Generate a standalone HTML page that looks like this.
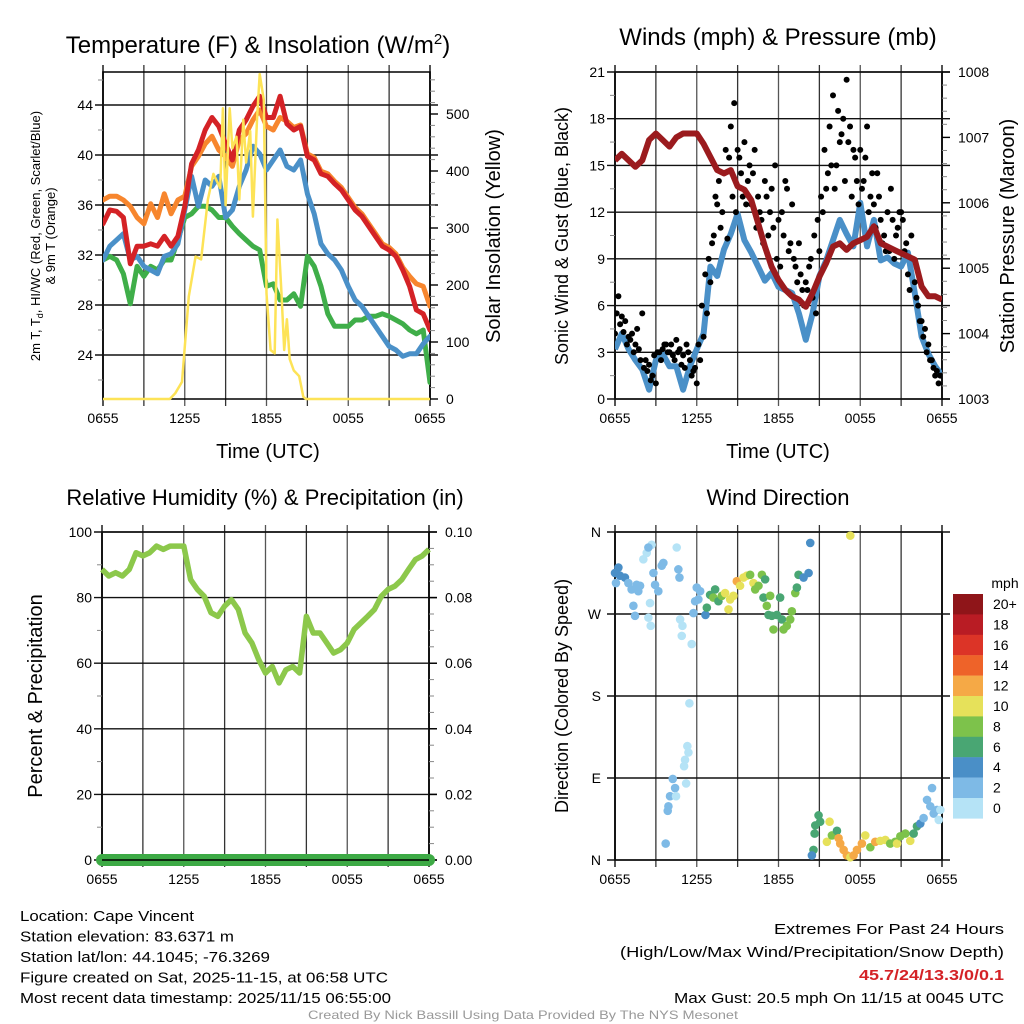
<!DOCTYPE html>
<html><head><meta charset="utf-8"><style>
html,body{margin:0;padding:0;background:#fff;}
svg{display:block;font-family:"Liberation Sans",sans-serif;}
</style></head><body>
<svg id="c" width="1024" height="1024" viewBox="0 0 1024 1024" xmlns="http://www.w3.org/2000/svg"></svg>
<script>
// ---------- DATA ----------
const timeLabels = ["0655","1255","1855","0055","0655"];
const temp2m = [34.5,35.6,35.5,35,31.3,32.7,32.7,32.9,32.7,33.5,32.7,33.5,35.9,39.3,40.4,42,43,42.3,40.9,39.6,42,42.8,43.9,44.7,43,43,44.7,42.5,42,42.3,39.9,39.6,38.5,38.3,37.7,37.2,36.4,35.6,35.1,34.3,33.5,32.7,32.4,31.9,30.8,29.5,27.6,27.3,26];
const temp9m = [36.4,36.7,36.7,36.4,35.9,35,34.5,36.1,35,36.9,35.3,36.4,36.7,39.1,39.9,40.9,41.5,40.4,39.9,39.1,41.2,41.7,42.8,43.6,42.3,42,43,42.7,42.2,42.4,40.1,39.8,38.7,38.5,37.9,37.4,36.6,35.8,35.3,34.5,33.7,32.9,32.6,32.1,31,30.3,29.7,29.5,27.9];
const windChill = [31.6,32.7,33.2,33.7,31.6,31.9,31.1,30.8,30.5,31.9,32.1,32.9,35.6,38.3,35.9,38,37.5,38.3,35,35.6,37.5,38.8,40.7,40.1,38.8,39.6,40.4,39.1,38.8,39.6,36.9,35.3,32.9,32.1,31.6,30.8,29.5,28.4,27.9,27.1,26.3,25.5,24.7,24.4,23.9,24.1,24.1,24.9,25.5];
const dewPoint = [31.6,31.9,31.6,30.5,28.1,31.1,30.3,31.1,30.8,31.6,31.6,33.2,35,35.3,35.9,35.9,35.6,35,35,34.3,33.7,33.2,32.7,32.4,29.5,29.7,28.4,28.4,28.9,27.9,31.9,31.1,29.5,27.3,26.3,26.3,26.3,26.8,26.8,27.1,27.1,27.3,27.1,26.8,26.5,26,25.7,26,21.8];
const insolHours = [0,4.9,5.3,5.8,6.3,6.8,7.2,7.7,8.1,8.6,8.8,9.0,9.3,9.5,9.8,10.0,10.3,10.5,10.8,11.0,11.3,11.5,11.8,12.0,12.3,12.6,12.8,13.1,13.3,13.5,13.7,14.0,14.4,14.7,14.9,15.2,24];
const insolation = [0,0,10,30,180,250,245,350,395,370,510,340,510,440,460,350,490,415,470,320,490,570,525,185,86,80,315,185,86,140,70,50,40,4,0,0,0];
const windSpeed = [3.2,4.2,3.2,2.5,1.9,0.6,2.5,2.9,2.1,2.1,0.6,2.1,3.2,4.2,8.5,7.9,9.6,10.6,11.9,10.2,9.4,8.5,7.6,8.1,7.2,7,6.8,5.5,3.8,5.5,7.9,8.9,10.2,11.5,10.6,9.8,12.6,9.8,11.5,8.9,9.1,8.7,8.5,9.4,6.8,4,2.9,2.1,1.5];
const gustA = [4.2,6.6,5.3,5.0,4.0,4.2,3.5,3.2,5.5,2.5,2.2,1.5,1.0,3.0,3.2,3.5,3.0,2.8,3.8,3.2,2.8,3.5,2.5,1.8,1.0,2.5,4.0,5.5,7.5,10.5,12.5,11.0,14.5,10.3,17.5,19.0,16.0,14.5,16.5,14.0,12.5,16.0,13.0,11.5,14.0,10.5,13.5,15.0,11.5,12.0,14.0,9.5,12.5,8.5,10.0,7.0,7.5,8.5,6.5,5.5,9.5,12.0,13.5,17.5,19.5,15.0,16.5,18.0,20.5,17.5,16.0,14.0,16.0,14.0,17.5,13.0,12.5,14.5,11.5,10.5,12.0,13.5,9.0,11.0,12.0,9.5,8.0,10.5,7.5,6.0,5.0,4.5,3.5,2.5,1.5,1.0,1.5];
const gustB = [5.5,4.8,4.3,3.5,3.8,3.0,4.5,2.5,2.0,1.8,1.2,2.8,3.0,2.5,3.5,3.0,3.5,2.5,3.0,2.2,2.0,3.0,1.5,2.0,3.5,6.0,8.0,9.0,10.0,13.0,14.0,12.0,16.0,15.5,13.0,12.0,15.5,13.0,12.5,15.0,14.5,11.0,12.0,10.0,13.0,12.0,11.0,9.0,8.5,10.5,13.5,10.0,9.0,7.5,8.0,6.0,7.0,9.0,10.5,11.5,13.0,16.0,14.5,15.0,13.5,18.5,17.0,14.0,16.5,13.0,15.5,12.5,13.5,15.5,12.0,14.5,11.0,13.0,10.0,9.5,9.5,11.5,10.5,12.0,11.5,10.0,7.0,9.0,6.5,5.0,4.0,3.0,2.5,2.0,1.8,1.5];
const pressure = [1006.65,1006.75,1006.65,1006.55,1006.65,1006.96,1007.06,1006.96,1006.86,1007.0,1007.06,1007.06,1007.06,1006.9,1006.7,1006.5,1006.45,1006.5,1006.25,1006.2,1006.04,1005.69,1005.33,1005.02,1004.82,1004.67,1004.57,1004.52,1004.41,1004.62,1004.87,1005.08,1005.33,1005.38,1005.28,1005.38,1005.43,1005.48,1005.64,1005.38,1005.33,1005.28,1005.23,1005.18,1005.13,1004.72,1004.57,1004.57,1004.52];
const relHum = [88.6,86.6,87.6,86.6,88.6,93.7,92.7,93.7,95.7,94.7,95.7,95.7,95.7,85.5,82.5,80.4,75.4,74.3,77.4,79.4,76.4,69.2,66.2,61.1,57,59,54,58,59,57,74.3,69.2,69.2,66.2,63.1,64.1,66.2,70.3,72.3,74.3,76.4,80.4,82.5,83.5,85.5,88.6,91.6,92.7,94.7];
const precip = [0,0,0,0,0,0,0,0,0,0,0,0,0,0,0,0,0,0,0,0,0,0,0,0,0,0,0,0,0,0,0,0,0,0,0,0,0,0,0,0,0,0,0,0,0,0,0,0,0];
const dirHours = [0.0,0.25,0.37,0.73,0.07,0.98,1.22,1.59,1.35,1.47,1.84,1.71,2.08,2.33,2.69,2.45,2.82,2.94,3.18,3.43,3.55,2.57,2.45,2.62,4.53,4.65,4.73,4.78,4.95,4.9,5.63,5.46,5.31,5.39,5.14,5.07,5.22,4.24,4.41,4.04,3.92,3.87,3.72,4.48,6.0,6.25,5.88,5.76,6.12,6.64,6.74,6.98,7.35,7.22,7.59,7.84,8.08,8.33,8.45,8.69,8.94,9.18,9.43,9.67,9.92,10.16,10.29,10.53,10.78,10.9,11.02,11.39,11.14,11.27,11.51,11.63,11.88,12.12,12.25,12.37,12.61,12.86,12.98,13.23,13.35,13.47,13.84,14.21,14.33,17.27,14.94,15.06,14.7,14.65,14.57,14.45,15.75,15.55,15.92,16.29,16.41,16.53,16.78,17.02,17.27,17.51,17.76,18.12,18.37,18.74,19.1,19.47,19.84,20.2,20.57,20.7,20.94,21.31,21.67,21.92,22.16,22.41,22.65,22.9,23.27,23.39,23.63,23.88,23.76,23.14];
const dirDeg = [315,321,312,310,304,304,297,302,279,268,301,295,330,337,346,343,315,302,295,323,326,282,266,257,343,319,310,264,257,246,237,172,125,118,110,103,84,89,79,70,59,54,18,70,299,295,284,271,286,269,277,291,297,288,284,290,293,275,286,290,306,301,310,312,313,304,297,301,313,288,308,290,279,269,268,253,269,288,264,253,257,264,273,293,299,313,310,315,348,356,49,42,38,29,11,5,42,20,27,32,24,18,11,5,3,5,11,18,27,14,20,21,22,18,20,18,26,29,21,29,37,40,46,66,79,51,55,55,44,59];
const dirSpeed = [4,4,4,4,2,2,2,2,2,2,2,2,0,0,0,1,2,2,2,2,2,0,0,0,0,2,2,0,0,0,0,0,0,0,0,0,0,2,2,2,2,2,2,0,2,2,2,2,2,4,6,6,6,8,6,8,10,10,10,10,12,10,10,10,8,10,8,8,8,6,6,8,8,6,6,8,6,6,6,8,8,8,8,8,6,6,4,4,4,10,6,6,6,6,6,4,10,10,8,6,12,12,12,12,10,12,12,12,10,8,12,10,10,8,8,10,8,8,10,6,6,4,2,2,2,2,2,0,0,2];
const speedLabels = ["20+","18","16","14","12","10","8","6","4","2","0"];
const speedColors = ["#b5e3f6","#7ebae6","#4a8fc7","#49a673","#7dc24b","#e6e15a","#f5a946","#ee6329","#dc3427","#b91c24","#8f1519"];

// ---------- HELPERS ----------
const NS="http://www.w3.org/2000/svg";
const svg=document.getElementById('c');
function mk(tag,attrs,parent){const e=document.createElementNS(NS,tag);for(const k in attrs)e.setAttribute(k,attrs[k]);(parent||svg).appendChild(e);return e;}
function txt(s,x,y,size,anchor,parent,extra){const t=mk('text',Object.assign({x:x,y:y,'font-size':size,'text-anchor':anchor||'middle',fill:'#000'},extra||{}),parent);t.textContent=s;return t;}
function grp(name){const g=mk('g',{});return g;}
function linePath(xs,ys){return xs.map((x,i)=>(i?'L':'M')+x.toFixed(1)+' '+ys[i].toFixed(1)).join(' ');}

function frame(g,L,R,T,B){
  for(let i=0;i<=8;i++){const x=L+(R-L)*i/8;mk('line',{x1:x,y1:T-7,x2:x,y2:B+7,stroke:i%2?'#333':'#555','stroke-width':i==0||i==8?2:1.3},g);}
  mk('rect',{x:L,y:T,width:R-L,height:B-T,fill:'none',stroke:'#000','stroke-width':1.5},g);
  for(let i=0;i<5;i++){const x=L+(R-L)*i/4;const t=txt(timeLabels[i],x,B+24,14,'middle',g);}
}
function hgrid(g,L,R,y){mk('line',{x1:L-8,y1:y,x2:R+8,y2:y,stroke:'#111','stroke-width':1.4},g);}
function minor(g,x,y,side){mk('line',{x1:x,y1:y,x2:x+side*5,y2:y,stroke:'#888','stroke-width':1},g);}

// ---------- PANEL 1 ----------
(function(){
  const L=103,R=430,T=72,B=399;
  const g=grp('temperature-panel');
  const xs=i=>L+(R-L)*i/48, xh=h=>L+(R-L)*h/24;
  const yT=v=>399-(v-20.48)*12.5, yI=v=>399-v*0.57;
  frame(g,L,R,T,B);
  for(let v=22;v<=46;v+=2){const y=yT(v);if(v%4==0){hgrid(g,L,R,y);txt(String(v),L-10,y+5,14,'end',g);}else minor(g,L,y,-1);}
  for(let v=0;v<=560;v+=20){const y=yI(v);if(v%100==0){mk('line',{x1:R,y1:y,x2:R+8,y2:y,stroke:'#000','stroke-width':1.4},g);txt(String(v),R+16,y+5,14,'start',g);}else minor(g,R,y,1);}
  const t=txt('Temperature (F) & Insolation (W/m',258,53,24,'middle',g);const sup=mk('tspan',{dy:-9,'font-size':15},t);sup.textContent='2';const cl=mk('tspan',{dy:9},t);cl.textContent=')';
  
  txt('Time (UTC)',268,458,20,'middle',g);
  const yt=mk('text',{transform:'translate(40,236) rotate(-90)','font-size':13,'text-anchor':'middle'},g);
  
  const a=mk('tspan',{x:0,dy:0},yt);a.textContent='2m T, T';const s=mk('tspan',{'font-size':9,dy:3},yt);s.textContent='d';const b=mk('tspan',{dy:-3},yt);b.textContent=', HI/WC (Red, Green, Scarlet/Blue)';
  const c=mk('tspan',{x:0,dy:15},yt);c.textContent='& 9m T (Orange)';
  txt('Solar Insolation (Yellow)',0,0,20,'middle',g,{transform:'translate(500,236) rotate(-90)'});
  const clip=mk('clipPath',{id:'cp1'},g);mk('rect',{x:L,y:T-2,width:R-L,height:B-T+4},clip);
  const pg=mk('g',{'clip-path':'url(#cp1)'},g);
  const series=[[dewPoint,'#3fae49','dew-point-line'],[windChill,'#4a90c8','wind-chill-line'],[temp9m,'#f7862e','temp-9m-line'],[temp2m,'#d42226','temp-2m-line']];
  series.forEach(([d,col,nm])=>{const p=mk('path',{d:linePath(d.map((v,i)=>xs(i)),d.map(yT)),fill:'none',stroke:col,'stroke-width':5,'stroke-linejoin':'round','stroke-linecap':'round'},pg);});
  const p=mk('path',{d:linePath(insolHours.map(xh),insolation.map(yI)),fill:'none',stroke:'#fde357','stroke-width':2.5,'stroke-linejoin':'round'},pg);
  
})();

// ---------- PANEL 2 ----------
(function(){
  const L=615,R=942,T=72,B=399;
  const g=grp('wind-pressure-panel');
  const xs=i=>L+(R-L)*i/48;
  const yW=v=>B-v*(B-T)/21, yP=v=>B-(v-1003)*(B-T)/5;
  frame(g,L,R,T,B);
  for(let v=0;v<=21;v+=1.5){const y=yW(v);if(v%3==0){hgrid(g,L,R,y);txt(String(v),L-10,y+5,14,'end',g);}else minor(g,L,y,-1);}
  for(let v=1003;v<=1008.001;v+=0.2){const y=yP(v);const r=Math.round(v*10)/10;if(Math.abs(r-Math.round(r))<0.01){mk('line',{x1:R,y1:y,x2:R+8,y2:y,stroke:'#000','stroke-width':1.4},g);txt(String(Math.round(r)),R+16,y+5,14,'start',g);}else minor(g,R,y,1);}
  txt('Winds (mph) & Pressure (mb)',778,45,24,'middle',g);
  txt('Time (UTC)',778,458,20,'middle',g);
  txt('Sonic Wind & Gust (Blue, Black)',0,0,18,'middle',g,{transform:'translate(568,236) rotate(-90)'});
  txt('Station Pressure (Maroon)',0,0,20,'middle',g,{transform:'translate(1014,236) rotate(-90)'});
  const clip=mk('clipPath',{id:'cp2'},g);mk('rect',{x:L,y:T-2,width:R-L,height:B-T+4},clip);
  const pg=mk('g',{'clip-path':'url(#cp2)'},g);
  const wp=mk('path',{d:linePath(windSpeed.map((v,i)=>xs(i)),windSpeed.map(yW)),fill:'none',stroke:'#4a90c8','stroke-width':6,'stroke-linejoin':'round'},pg);
  
  gustA.forEach((v,i)=>{const c=mk('circle',{cx:L+(R-L)*i/96,cy:yW(v),r:3,fill:'#000'},pg);});
  gustB.forEach((v,i)=>{const c=mk('circle',{cx:L+(R-L)*(i+0.5)/96,cy:yW(v),r:3,fill:'#000'},pg);});
  const pp=mk('path',{d:linePath(pressure.map((v,i)=>xs(i)),pressure.map(yP)),fill:'none',stroke:'#9b1b1e','stroke-width':6,'stroke-linejoin':'round'},pg);
  
})();

// ---------- PANEL 3 ----------
(function(){
  const L=102,R=429,T=532,B=860;
  const g=grp('humidity-panel');
  const xs=i=>L+(R-L)*i/48;
  const yR=v=>B-v*(B-T)/100, yPr=v=>B-v*(B-T)/0.1;
  frame(g,L,R,T,B);
  for(let v=0;v<=100;v+=10){const y=yR(v);if(v%20==0){hgrid(g,L,R,y);txt(String(v),L-10,y+5,14,'end',g);}else minor(g,L,y,-1);}
  for(let k=0;k<=20;k++){const v=k*0.005,y=yPr(v);if(k%4==0){mk('line',{x1:R,y1:y,x2:R+8,y2:y,stroke:'#000','stroke-width':1.4},g);txt((k*0.005).toFixed(2),R+16,y+5,14,'start',g);}else minor(g,R,y,1);}
  txt('Relative Humidity (%) & Precipitation (in)',265,505,22,'middle',g);
  txt('Percent & Precipitation',0,0,20,'middle',g,{transform:'translate(42,696) rotate(-90)'});
  const rp=mk('path',{d:linePath(relHum.map((v,i)=>xs(i)),relHum.map(yR)),fill:'none',stroke:'#8cc84b','stroke-width':5.5,'stroke-linejoin':'round'},g);
  
  const pp=mk('path',{d:linePath(precip.map((v,i)=>xs(i)),precip.map(yPr)),fill:'none',stroke:'#3daa45','stroke-width':12,'stroke-linecap':'round'},g);
  
  mk('line',{x1:L,y1:B,x2:R,y2:B,stroke:'#000','stroke-width':1.5},g);
})();

// ---------- PANEL 4 ----------
(function(){
  const L=615,R=942,T=532,B=860;
  const g=grp('wind-direction-panel');
  const xh=h=>L+(R-L)*h/24, yD=d=>B-d*(B-T)/360;
  frame(g,L,R,T,B);
  ["N","E","S","W","N"].forEach((s,i)=>{const y=yD(i*90);hgrid(g,L,R,y);txt(s,L-14,y+5,14,'end',g);});
  txt('Wind Direction',778,505,22,'middle',g);
  txt('Direction (Colored By Speed)',0,0,18,'middle',g,{transform:'translate(568,696) rotate(-90)'});
  dirHours.forEach((h,i)=>{
    const c=mk('circle',{cx:xh(h),cy:yD(dirDeg[i]),r:4.3,fill:speedColors[Math.min(10,Math.round(dirSpeed[i]/2))]},g);
    });
  const lg=grp('speed-legend');
  txt('mph',1005,588,14,'middle',lg);
  speedLabels.forEach((s,i)=>{const y=594+i*20.4;const r=mk('rect',{x:953,y:y,width:30,height:20.6,fill:speedColors[10-i]},lg);
    
    txt(s,993,y+15,14,'start',lg);});
})();

// ---------- FOOTER ----------
(function(){
  const g=grp('station-info');
  const lines=["Location: Cape Vincent","Station elevation: 83.6371 m","Station lat/lon: 44.1045; -76.3269","Figure created on Sat, 2025-11-15, at 06:58 UTC","Most recent data timestamp: 2025/11/15 06:55:00"];
  const widths=[174,214,250,368,371];
  lines.forEach((s,i)=>txt(s,20,921+i*20.5,15,'start',g,{textLength:widths[i],lengthAdjust:'spacingAndGlyphs'}));
  const e=grp('extremes-info');
  txt('Extremes For Past 24 Hours',1004,934,15,'end',e,{textLength:230,lengthAdjust:'spacingAndGlyphs'});
  txt('(High/Low/Max Wind/Precipitation/Snow Depth)',1004,957,15,'end',e,{textLength:384,lengthAdjust:'spacingAndGlyphs'});
  txt('45.7/24/13.3/0/0.1',1004,980,15,'end',e,{fill:'#d42226','font-weight':'bold',textLength:145,lengthAdjust:'spacingAndGlyphs'});
  txt('Max Gust: 20.5 mph On 11/15 at 0045 UTC',1004,1003,15,'end',e,{textLength:330,lengthAdjust:'spacingAndGlyphs'});
  txt('Created By Nick Bassill Using Data Provided By The NYS Mesonet',523,1019,12,'middle',g,{fill:'#999',textLength:430,lengthAdjust:'spacingAndGlyphs'});
})();
</script>
</body></html>
